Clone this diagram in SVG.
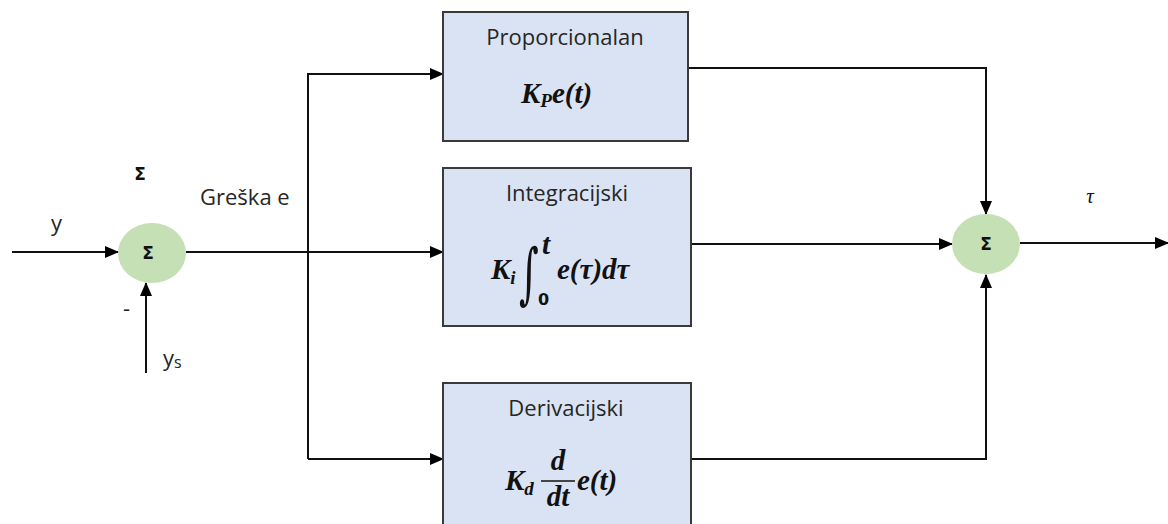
<svg xmlns="http://www.w3.org/2000/svg" width="1168" height="524" viewBox="0 0 1168 524">
<style>
.box{fill:#dae3f3;stroke:#3a3a3a;stroke-width:2}
.sum{fill:#c5e0b4;stroke:none}
.lbl{font-family:"Open Sans","Liberation Sans",sans-serif;font-size:22px;fill:#262626}
.sig{font-family:"DejaVu Sans",sans-serif;font-size:17px;font-weight:bold;fill:#111}
.math{font-family:"Liberation Serif","DejaVu Serif",serif;font-style:italic;font-weight:bold;fill:#111;font-size:29px}
.ln{fill:none;stroke:#111;stroke-width:2}
</style>
<defs>
<marker id="ah" markerWidth="14" markerHeight="12" refX="13" refY="6" orient="auto" markerUnits="userSpaceOnUse">
<path d="M0,0 L14,6 L0,12 Z" fill="#000"/>
</marker>
</defs>
<rect width="1168" height="524" fill="#fff"/>
<g id="connectors">
<line class="ln" x1="12" y1="252" x2="118" y2="252" marker-end="url(#ah)"/>
<line class="ln" x1="146" y1="373" x2="146" y2="283" marker-end="url(#ah)"/>
<line class="ln" x1="186" y1="252" x2="443" y2="252" marker-end="url(#ah)"/>
<polyline class="ln" points="308,459 308,74 443,74" marker-end="url(#ah)"/>
<line class="ln" x1="308" y1="459" x2="443" y2="459" marker-end="url(#ah)"/>
<polyline class="ln" points="688,68 986,68 986,214" marker-end="url(#ah)"/>
<line class="ln" x1="691" y1="244" x2="952" y2="244" marker-end="url(#ah)"/>
<polyline class="ln" points="691,459 986,459 986,275" marker-end="url(#ah)"/>
<line class="ln" x1="1020" y1="243" x2="1168" y2="243" marker-end="url(#ah)"/>
</g>
<g id="sum1">
<ellipse class="sum" cx="152" cy="253" rx="34" ry="30"/>
<text class="sig" x="148" y="259" text-anchor="middle">Σ</text>
</g>
<g id="sum2">
<ellipse class="sum" cx="986" cy="244" rx="34" ry="30"/>
<text class="sig" x="986" y="250" text-anchor="middle">Σ</text>
</g>
<g id="proportional">
<rect class="box" x="443" y="12" width="245" height="129"/>
<text class="lbl" x="565" y="45" text-anchor="middle">Proporcionalan</text>
<text class="math" x="521" y="103">K<tspan font-size="19" dy="4">P</tspan><tspan dy="-4">e(t)</tspan></text>
</g>
<g id="integral">
<rect class="box" x="443" y="168" width="248" height="158"/>
<text class="lbl" x="567" y="201" text-anchor="middle">Integracijski</text>
<text class="math" x="491" y="279">K<tspan font-size="19" dy="5">i</tspan></text>
<text transform="translate(519,296) scale(1,1.75)" font-family="DejaVu Serif,serif" font-size="38" fill="#111">∫</text>
<text class="math" x="542" y="254" font-size="19">t</text>
<text x="538" y="305" font-family="DejaVu Sans,sans-serif" font-weight="bold" font-size="16" fill="#111">0</text>
<text class="math" x="557" y="279">e(τ)dτ</text>
</g>
<g id="derivative">
<rect class="box" x="443" y="383" width="248" height="150"/>
<text class="lbl" x="566" y="416" text-anchor="middle">Derivacijski</text>
<text class="math" x="505" y="490">K<tspan font-size="19" dy="5">d</tspan></text>
<text class="math" x="558" y="470" text-anchor="middle">d</text>
<line x1="541" y1="481" x2="575" y2="481" stroke="#111" stroke-width="1.5"/>
<text class="math" x="558" y="506" text-anchor="middle">dt</text>
<text class="math" x="577" y="490">e(t)</text>
</g>
<g id="labels">
<text class="sig" x="140" y="180" text-anchor="middle">Σ</text>
<text class="lbl" x="200" y="205" font-size="16">Greška e</text>
<text class="lbl" x="51" y="231" font-size="20">y</text>
<text class="lbl" x="123" y="316" font-size="18">-</text>
<text class="lbl" x="163" y="366" font-size="22">y<tspan font-size="16" dy="2">s</tspan></text>
<text x="1090" y="203" font-family="Liberation Serif,serif" font-style="italic" font-size="21" text-anchor="middle" fill="#111">τ</text>
</g>
</svg>
